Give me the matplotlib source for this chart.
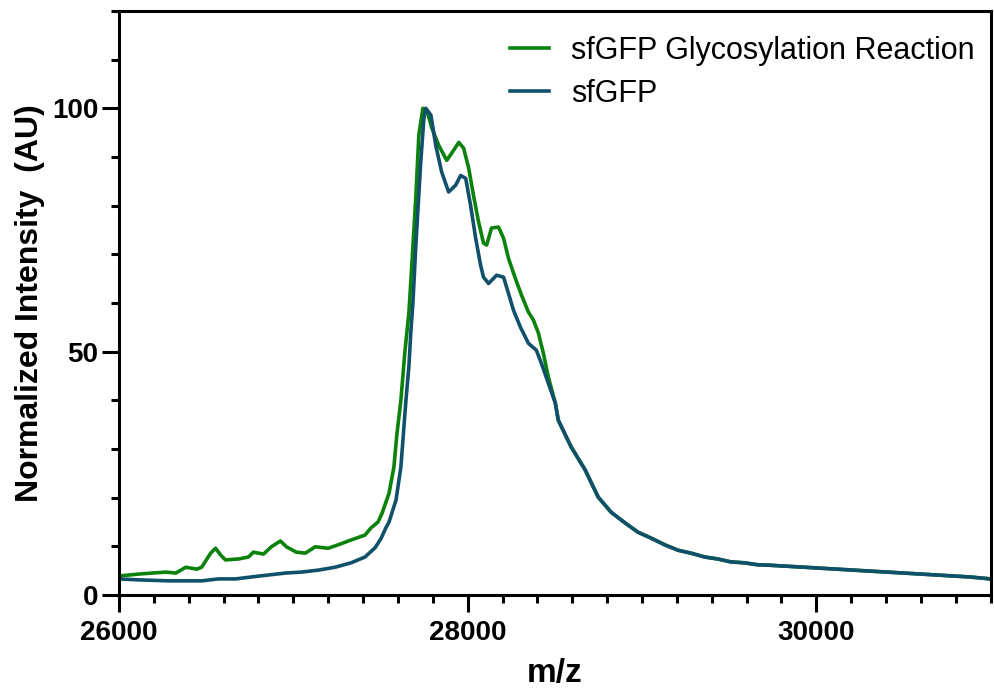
import numpy as np
import matplotlib.pyplot as plt

plt.rcParams['font.family'] = ['Liberation Sans', 'DejaVu Sans']

"glycosylation reaction trace (rising part + main peaks)"
glyco_mz = [26000, 26114, 26189, 26269, 26326, 26383, 26446, 26474, 26526, 26554,
            26583, 26611, 26686, 26743, 26771, 26829, 26874, 26926, 26960, 27017,
            27069, 27126, 27200, 27257, 27331, 27411, 27446, 27486, 27509, 27549,
            27577, 27594, 27617, 27640, 27663, 27680, 27703, 27720, 27743, 27766,
            27794, 27834, 27880, 27920, 27949, 27977, 28006, 28034, 28063, 28091,
            28109, 28137, 28177, 28206, 28234, 28274, 28309, 28349, 28377, 28406,
            28434, 28463]
glyco_int = [3.9, 4.3, 4.5, 4.7, 4.5, 5.7, 5.3, 5.7, 8.6, 9.6,
             8.2, 7.2, 7.4, 7.8, 8.8, 8.4, 9.9, 11.1, 9.9, 8.8,
             8.6, 9.9, 9.6, 10.3, 11.3, 12.3, 13.8, 15.0, 16.8, 20.9,
             26.3, 33.0, 40.0, 50.0, 58.0, 68.0, 82.0, 94.5, 100.0, 99.6,
             96.0, 92.4, 89.3, 91.4, 93.0, 91.8, 87.7, 82.0, 76.6, 72.3,
             71.9, 75.4, 75.6, 73.3, 69.2, 65.0, 61.6, 58.1, 56.5, 53.8,
             49.7, 44.8]

"sfGFP trace"
sfgfp_mz = [26000, 26114, 26286, 26474, 26571, 26669, 26760, 26857, 26954, 27046,
            27143, 27240, 27331, 27411, 27469, 27503, 27531, 27549, 27589, 27617,
            27646, 27663, 27674, 27686, 27703, 27731, 27749, 27760, 27789, 27817,
            27851, 27891, 27931, 27960, 27989, 28017, 28046, 28074, 28091, 28120,
            28166, 28206, 28234, 28263, 28303, 28349, 28394, 28423, 28463]
sfgfp_int = [3.3, 3.1, 2.9, 2.9, 3.3, 3.3, 3.7, 4.1, 4.5, 4.7,
             5.1, 5.7, 6.6, 7.8, 9.7, 11.6, 13.8, 15.0, 19.5, 26.3,
             40.0, 47.0, 54.0, 60.0, 72.0, 89.0, 98.0, 100.0, 98.6, 92.4,
             86.9, 82.8, 84.2, 86.2, 85.6, 80.0, 73.3, 67.8, 65.3, 64.0,
             65.7, 65.3, 62.0, 58.5, 55.0, 51.7, 50.3, 47.6, 43.5]

"shared tail, both traces overlap here"
tail_mz = [28503, 28520, 28594, 28674, 28749, 28823, 28903, 28977, 29051, 29131,
           29206, 29280, 29360, 29434, 29509, 29589, 29663, 29737, 29931, 30120,
           30309, 30503, 30691, 30880, 31000]
tail_int = [39.4, 35.9, 30.4, 25.7, 20.1, 17.0, 14.8, 12.9, 11.7, 10.3,
            9.2, 8.6, 7.8, 7.4, 6.8, 6.6, 6.2, 6.1, 5.7, 5.3,
            4.9, 4.5, 4.1, 3.7, 3.3]

x_glyco = np.array(glyco_mz + tail_mz)
y_glyco = np.array(glyco_int + tail_int)
x_sf = np.array(sfgfp_mz + tail_mz)
y_sf = np.array(sfgfp_int + tail_int)

green = '#0b820b'
teal = '#11506a'

fig = plt.figure(figsize=(9.95, 6.94), dpi=100)
ax = fig.add_axes([0.1196, 0.1427, 0.876, 0.8415])

ax.plot(x_glyco, y_glyco, color=green, lw=2.6, label='sfGFP Glycosylation Reaction')
ax.plot(x_sf, y_sf, color=teal, lw=2.6, label='sfGFP')

ax.set_xlim(26000, 31000)
ax.set_ylim(0, 120)
ax.set_xticks([26000, 28000, 30000])
ax.set_xticks(np.arange(26000, 31001, 200), minor=True)
ax.set_yticks([0, 50, 100])
ax.set_yticks(np.arange(0, 121, 10), minor=True)

for s in ax.spines.values():
    s.set_linewidth(2.2)
ax.tick_params(which='major', length=12, width=2.2, labelsize=20)
ax.tick_params(which='minor', length=6, width=2.2)
ax.tick_params(axis='x', which='major', pad=6)
ax.tick_params(axis='y', which='major', pad=3)
for lab in ax.get_xticklabels() + ax.get_yticklabels():
    lab.set_fontweight('bold')

# keep m/z just inside the canvas
ax.set_xlabel('m/z', fontsize=24, fontweight='bold', labelpad=9)
ax.set_ylabel('Normalized Intensity  (AU)', fontsize=23, fontweight='bold', labelpad=5)

ax.legend(loc='upper right', bbox_to_anchor=(1.013, 1.004), frameon=False,
          fontsize=22, handlelength=1.3, handletextpad=0.7, labelspacing=0.42)

fig.savefig('out.png', dpi=100)
